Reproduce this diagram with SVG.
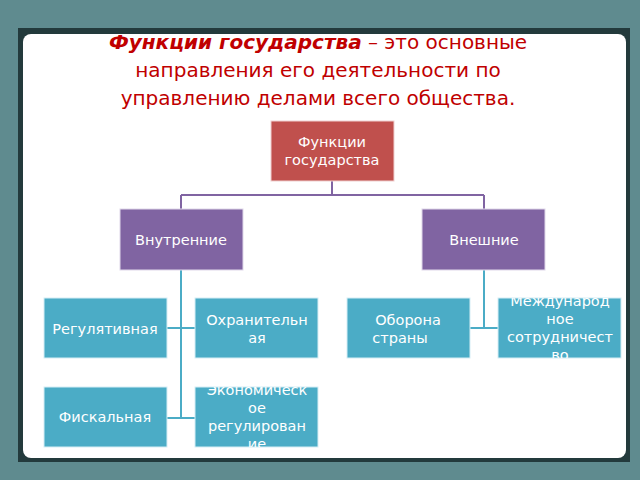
<svg xmlns="http://www.w3.org/2000/svg" width="640" height="480" viewBox="0 0 640 480">
<defs>
<style>
text{font-family:"DejaVu Sans","Noto Sans",sans-serif;fill:#fff;font-size:14.5px;text-anchor:middle}
.t{fill:#c00000;font-size:20px}
.leaf{fill:#4bacc6;stroke:#d6eef5;stroke-width:1}
.mid{fill:#8064a2;stroke:#e0d8ea;stroke-width:1}
.p{stroke:#8064a2;stroke-width:2;fill:none}
.c{stroke:#4bacc6;stroke-width:2;fill:none}
</style>
<clipPath id="c1"><rect x="195" y="298" width="123" height="60"/></clipPath>
<clipPath id="c2"><rect x="498" y="298" width="123" height="60"/></clipPath>
<clipPath id="c3"><rect x="195" y="387" width="123" height="60"/></clipPath>
</defs>
<rect width="640" height="480" fill="#5f8b8f"/>
<rect x="18" y="28" width="612" height="434" fill="#233a3c"/>
<rect x="23" y="34" width="603" height="424" rx="8" fill="#fff"/>
<text class="t" x="318" y="49"><tspan font-weight="bold" font-style="italic">Функции государства</tspan> – это основные</text>
<text class="t" x="318" y="77">направления его деятельности по</text>
<text class="t" x="318" y="105">управлению делами всего общества.</text>
<g id="connectors">
<path class="p" d="M332 181V195M181 195H484M181 195V209M484 195V209"/>
<path class="c" d="M181 270V418M167 328H195M167 418H195M484 270V328M470 328H498"/>
</g>
<g id="n0"><rect x="271" y="121" width="123" height="60" fill="#c0504d" stroke="#f0d0d0"/><text x="332" y="147">Функции</text><text x="332" y="165">государства</text></g>
<g id="n1"><rect class="mid" x="120" y="209" width="123" height="61"/><text x="181" y="245">Внутренние</text></g>
<g id="n2"><rect class="mid" x="422" y="209" width="123" height="61"/><text x="484" y="245">Внешние</text></g>
<g id="n3"><rect class="leaf" x="44" y="298" width="123" height="60"/><text x="105" y="334">Регулятивная</text></g>
<g id="n4"><rect class="leaf" x="195" y="298" width="123" height="60"/><g clip-path="url(#c1)"><text x="257" y="325">Охранительн</text><text x="257" y="343">ая</text></g></g>
<g id="n5"><rect class="leaf" x="347" y="298" width="123" height="60"/><text x="408" y="325">Оборона</text><text x="400" y="343">страны</text></g>
<g id="n6"><rect class="leaf" x="498" y="298" width="123" height="60"/><g clip-path="url(#c2)"><text x="560" y="306">Международ</text><text x="560" y="324">ное</text><text x="560" y="342">сотрудничест</text><text x="560" y="360">во</text></g></g>
<g id="n7"><rect class="leaf" x="44" y="387" width="123" height="60"/><text x="105" y="422">Фискальная</text></g>
<g id="n8"><rect class="leaf" x="195" y="387" width="123" height="60"/><g clip-path="url(#c3)"><text x="257" y="395">Экономическ</text><text x="257" y="413">ое</text><text x="257" y="431">регулирован</text><text x="257" y="449">ие</text></g></g>
</svg>
